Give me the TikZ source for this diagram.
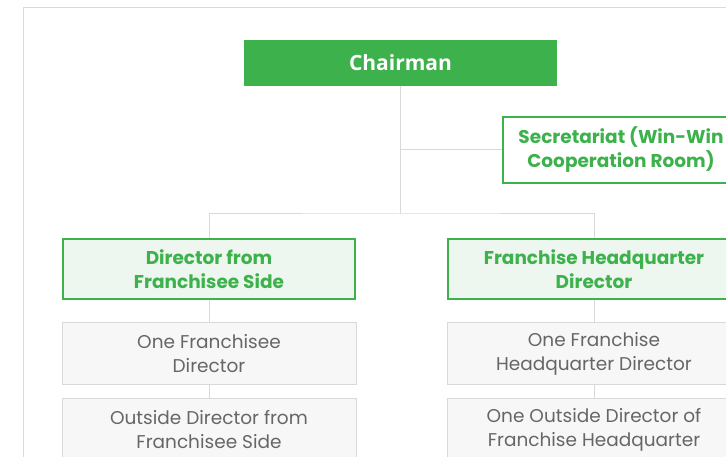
\documentclass[tikz,border=0pt]{standalone}
\usepackage{fontspec}
\setmainfont{Poppins}
\newfontfamily\chairfont{Open Sans}
\definecolor{grn}{HTML}{3DB14B}
\definecolor{lgrn}{HTML}{EEF7EF}
\definecolor{gfill}{HTML}{F7F7F7}
\definecolor{gline}{HTML}{D9D9D9}
\definecolor{gtext}{HTML}{666666}
\definecolor{frame}{HTML}{DADADA}
\begin{document}
\begin{tikzpicture}[x=1pt,y=-1pt,
  conn/.style={draw=gline,line width=1pt},
  chairbox/.style={fill=grn,text=white,minimum width=313pt,minimum height=46pt,inner sep=0pt,font=\chairfont\bfseries\fontsize{21}{24}\selectfont},
  secbox/.style={draw=grn,fill=white,line width=2pt,minimum width=236pt,minimum height=66pt,inner sep=0pt,align=center,text=grn,font=\bfseries\fontsize{18.5}{24}\selectfont},
  dirbox/.style={draw=grn,fill=lgrn,line width=2pt,minimum width=292pt,minimum height=60pt,inner sep=0pt,align=center,text=grn,font=\bfseries\fontsize{18.5}{24}\selectfont},
  membox/.style={draw=gline,fill=gfill,line width=1pt,minimum width=294pt,minimum height=62pt,inner sep=0pt,align=center,text=gtext,font=\fontsize{18.5}{24}\selectfont}]
\useasboundingbox (0,0) rectangle (726,457);
\clip (0,0) rectangle (726,457);
\draw[frame,line width=1pt] (23,8) rectangle (760,500);
\node[chairbox] (ch) at (400.5,63) {Chairman};
\node[secbox] (sec) at (621,150) {Secretariat (Win-Win\\Cooperation Room)};
\node[dirbox] (d1) at (209,269) {Director from\\Franchisee Side};
\node[dirbox] (d2) at (594,269) {Franchise Headquarter\\Director};
\node[membox] (m1) at (209,353.5) {One Franchisee\\Director};
\node[membox] (m2) at (594,353.5) {One Franchise\\Headquarter Director};
\node[membox] (m3) at (209,429.5) {Outside Director from\\Franchisee Side};
\node[membox] (m4) at (594,429.5) {One Outside Director of\\Franchise Headquarter};
\coordinate (j) at (ch.south |- 0,214);
\coordinate (js) at (ch.south |- sec.west);
\draw[conn] (ch.south) -- (j);
\draw[conn] (js) -- (sec.west);
\draw[conn] (d1.north) |- (j) -| (d2.north);
\draw[conn] (d1.south) -- (m1.north);
\draw[conn] (d2.south) -- (m2.north);
\draw[conn] (m1.south) -- (m3.north);
\draw[conn] (m2.south) -- (m4.north);
\end{tikzpicture}
\end{document}
